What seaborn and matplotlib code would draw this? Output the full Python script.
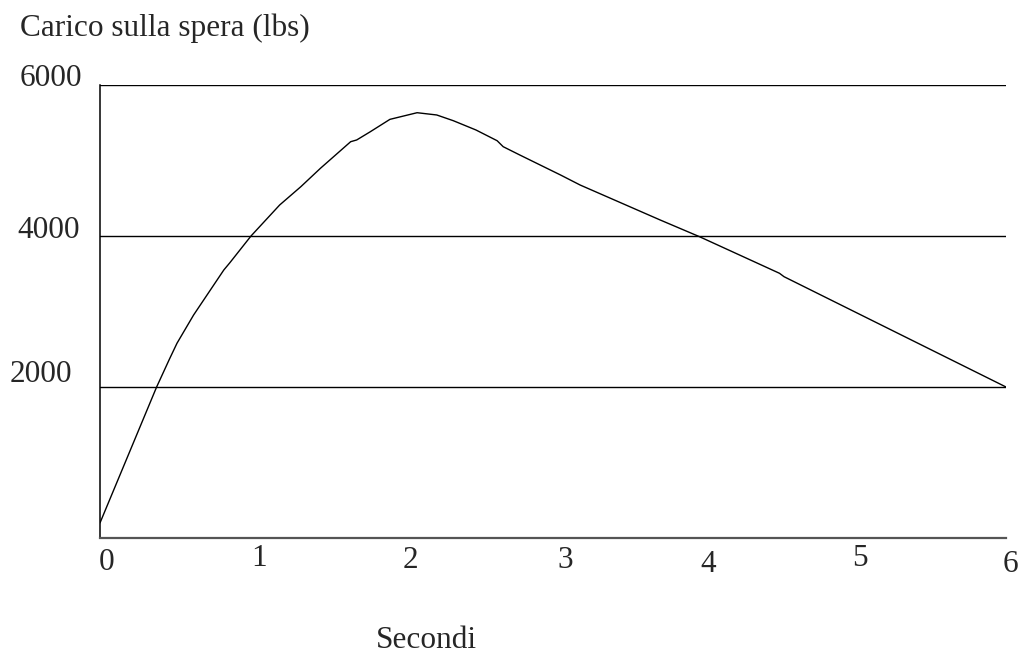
import numpy as np
import pandas as pd
import matplotlib
matplotlib.use("Agg")
import matplotlib.pyplot as plt
import matplotlib.transforms as mtransforms
import seaborn as sns

# data
seconds = [0.0, 0.2, 0.375, 0.46, 0.51, 0.62, 0.82, 0.86, 1.0, 1.19, 1.33,
           1.46, 1.66, 1.70, 1.79, 1.92, 2.10, 2.23, 2.34, 2.49, 2.63, 2.67,
           2.78, 3.05, 3.18, 3.71, 3.97, 4.50, 4.53, 6.0]
load_lbs = [200, 1160, 2000, 2370, 2580, 2954, 3550, 3646, 4000, 4411, 4653,
            4897, 5249, 5272, 5381, 5545, 5633, 5603, 5527, 5404, 5262, 5183,
            5073, 4808, 4675, 4212, 3991, 3506, 3461, 2000]
x_ticks = [0, 1, 2, 3, 4, 5, 6]
x_labels = ["0", "1", "2", "3", "4", "5", "6"]
y_ticks = [2000, 4000, 6000]
y_labels = ["2000", "4000", "6000"]

sns.set_style("white")
plt.rcParams['font.family'] = ['Liberation Serif', 'DejaVu Serif']

df = pd.DataFrame({"t": seconds, "load": load_lbs})

fig = plt.figure(figsize=(10.28, 6.54), dpi=100)
ax = fig.add_axes([100 / 1028, 116 / 654, 906 / 1028, 453 / 654])

for y in y_ticks:
    ax.axhline(y, color="black", lw=1.0, zorder=1)

sns.lineplot(data=df, x="t", y="load", ax=ax, color="black", lw=1.0,
             estimator=None, sort=False, zorder=3)

ax.set_xlim(0, 6)
ax.set_ylim(0, 6000)
ax.set_xticks([])
ax.set_yticks([])
ax.set_xlabel("")
ax.set_ylabel("")
for side in ["top", "right"]:
    ax.spines[side].set_visible(False)
ax.spines["left"].set_color("black")
ax.spines["left"].set_linewidth(1.1)
ax.spines["bottom"].set_color("#555555")
ax.spines["bottom"].set_linewidth(1.6)

fs = 22.5

# hand placed tick labels (pixel nudges)
x_nudge = [(7, -25), (8, -21), (8, -23), (12, -23), (4, -26), (5, -20), (4, -26)]
for t, lab, (dx, dy) in zip(x_ticks, x_labels, x_nudge):
    tr = mtransforms.offset_copy(ax.transData, fig=fig, x=dx, y=dy, units="dots")
    ax.text(t, 0, lab, transform=tr, ha="center", va="center", fontsize=fs)

y_nudge = [(-28, 13), (-20, 5), (-18, 6)]
for v, lab, (dx, dy) in zip(y_ticks, y_labels, y_nudge):
    tr = mtransforms.offset_copy(ax.transData, fig=fig, x=dx, y=dy, units="dots")
    ax.text(0, v, lab, transform=tr, ha="right", va="center", fontsize=fs)

fig.text(20 / 1028, 1 - 28 / 654, "Carico sulla spera (lbs)", ha="left",
         va="center", fontsize=fs)
fig.text(426 / 1028, 1 - 640 / 654, "Secondi", ha="center", va="center",
         fontsize=fs)

fig.savefig("out.png", dpi=100)
